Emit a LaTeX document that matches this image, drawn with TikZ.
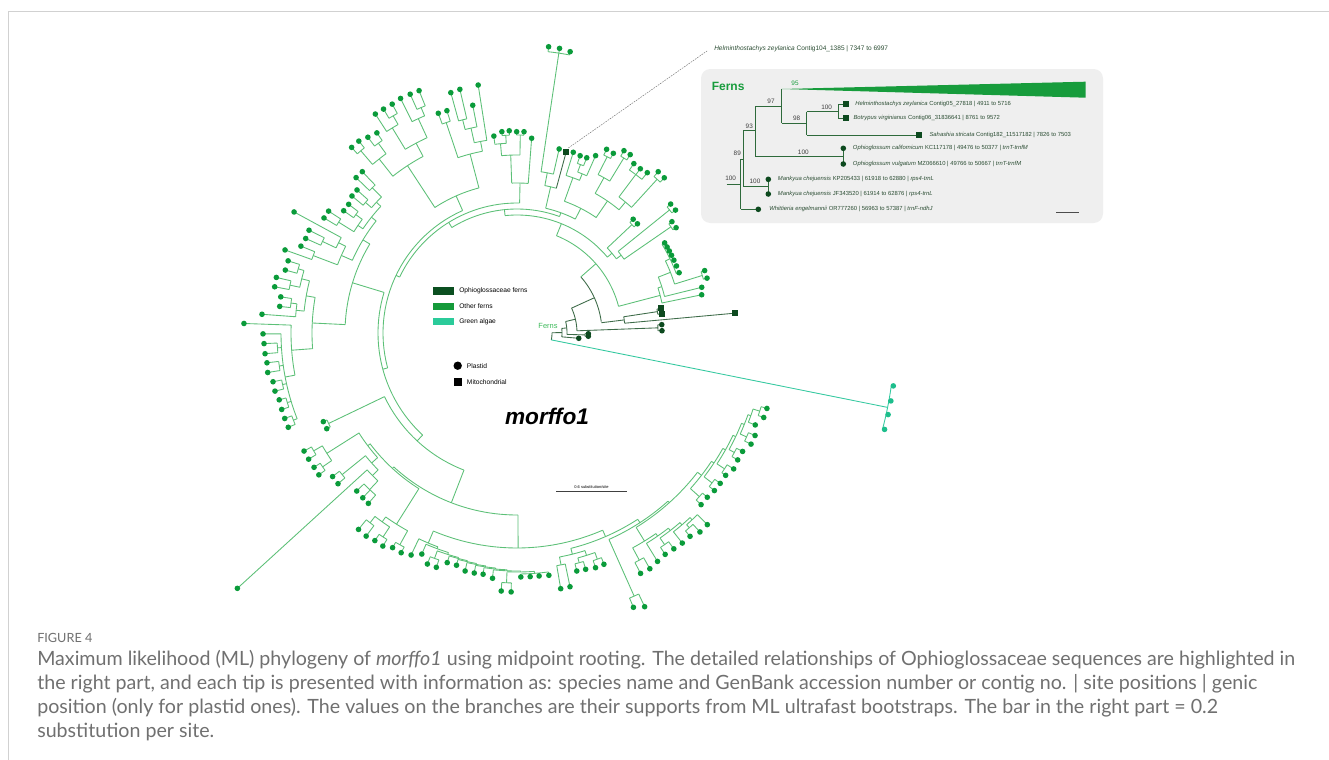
\documentclass[tikz,border=0pt]{standalone}
\usepackage{fontspec}
\usepackage{graphicx}
\setmainfont{Liberation Sans}
\newfontfamily\capfont{Lato}
\definecolor{brc}{HTML}{5CC077}
\definecolor{dotc}{HTML}{0A9B3A}
\definecolor{darkc}{HTML}{0D4A1F}
\definecolor{darkl}{HTML}{3D6B48}
\definecolor{alg}{HTML}{34C9A0}
\definecolor{algd}{HTML}{1DBE8C}
\definecolor{capgray}{HTML}{707070}
\definecolor{insetbg}{HTML}{EFEFEF}
\definecolor{insetln}{HTML}{2E6A3B}
\definecolor{insettx}{HTML}{2B4D33}
\definecolor{trig}{HTML}{179C3C}
\definecolor{lgdark}{HTML}{0B4F20}
\definecolor{lgmid}{HTML}{159A3A}
\definecolor{lgalg}{HTML}{2BCB9A}
\definecolor{fernlab}{HTML}{3DBA5A}
\tikzset{
  br/.style={line width=0.65pt},
  inl/.style={insetln, line width=0.7pt},
  tl/.style={anchor=west, inner sep=0pt, text=insettx, font=\fontsize{4.4}{5}\selectfont},
  bs/.style={inner sep=0pt, text=black!75, font=\fontsize{4.8}{5.5}\selectfont},
  lg/.style={anchor=west, inner sep=0pt, font=\fontsize{5}{6}\selectfont},
  capl/.style={anchor=base west, inner sep=0pt, text=capgray}
}
\newcommand\Rad[4][brc]{\draw[br,#1] (#2:#3) -- (#2:#4);}
\newcommand\Arc[4][brc]{\draw[br,#1] plot[domain=#2:#3,samples=30] (\x:#4);}
\newcommand\Clade[5][brc]{\pgfmathsetmacro\cmid{(#2+#3)/2}\Rad[#1]{\cmid}{#4}{#5}\Arc[#1]{#2}{#3}{#5}}
\newcommand\Tip[3]{\Rad{#1}{#2}{#3}\fill[dotc] (#1:#3) circle[radius=2.8];}
\newcommand\TipD[3]{\Rad[darkl]{#1}{#2}{#3}\fill[darkc] (#1:#3) circle[radius=2.8];}
\newcommand\TipS[3]{\Rad[darkl]{#1}{#2}{#3}\fill[darkc] (#1:#3) ++(-3,-3) rectangle ++(6,6);}
\newcommand\TipA[3]{\Rad[alg]{#1}{#2}{#3}\fill[algd] (#1:#3) circle[radius=2.8];}
\newcommand\Pair[6]{\pgfmathsetmacro\pmid{(#1+#2)/2}\Rad{\pmid}{#3}{#4}\Arc{#1}{#2}{#4}\Tip{#1}{#4}{#5}\Tip{#2}{#4}{#6}}
\newcommand\CapLineA{Maximum likelihood (ML) phylogeny of \textit{morffo1} using midpoint rooting. The detailed relationships of Ophioglossaceae sequences are highlighted in}
\newcommand\capsel{\capfont\fontsize{11}{13}\selectfont}
\newlength\capw
\begin{document}
\settowidth\capw{\capsel\CapLineA}
\pgfmathsetmacro\capsc{943.5/(\capw/1pt)}
\begin{tikzpicture}[x=0.75pt,y=-0.75pt]
\useasboundingbox (0,0) rectangle (1329,760);
\fill[white] (0,0) rectangle (1329,760);
\draw[black!18, line width=0.6pt] (8,760) -- (8,11) -- (1329,11);

% ================= circular tree =================
\begin{scope}[shift={(517,333)}]
\Arc[darkl]{-0.475}{11.35}{35}
\Clade[alg]{8}{14.7}{35}{378}
\TipA{8}{378}{380}\TipA{10.3}{378}{380}\TipA{12.4}{378}{380}\TipA{14.7}{378}{380}
\Clade[darkl]{-5.85}{4.9}{35}{45}
\TipD{4.9}{45}{62}
\Clade[darkl]{-13.3}{1.6}{45}{50}
\Clade[darkl]{0.6}{2.6}{50}{68}\TipD{0.6}{68}{71.4}\TipD{2.6}{68}{71.4}
\Clade[darkl]{-24.5}{-2.1}{50}{60}
\Clade[darkl]{-3.3}{-0.9}{60}{141}\TipD{-3.3}{141}{145}\TipD{-0.9}{141}{145}
\Clade[darkl]{-41.3}{-7.7}{60}{85}
\Clade[darkl]{-8.7}{-5.2}{85}{108}\TipS{-5.2}{108}{219}
\Clade[darkl]{-9.7}{-7.6}{108}{142}\TipS{-9.7}{142}{146.5}\TipS{-7.6}{142}{146.5}
\Clade{-67.9}{-14.7}{85}{105}
\Clade{-17.75}{-11.7}{105}{148}\Tip{-11.7}{148}{188.6}
\Clade{-21.6}{-13.9}{148}{152}\Tip{-13.9}{152}{190.3}
\Clade{-25.9}{-17.25}{152}{165}
\Pair{-18.4}{-16.1}{165}{194}{197.8}{197.8}
\Clade{-31.4}{-20.4}{165}{170}
\foreach \a in {-31.4,-29.8,-28.3,-26.7,-24.9,-22.8,-20.4}{\Tip{\a}{170}{173}}
\Clade{-95.8}{-40}{105}{118}
\Clade{-43.3}{-36.75}{118}{124}
\Pair{-44.4}{-42.2}{124}{158}{162.6}{162.6}
\Clade{-38.9}{-34.6}{124}{130}
\Pair{-40}{-37.8}{130}{196}{200.6}{200.6}
\Pair{-35.7}{-33.5}{130}{187}{190.8}{190.8}
\Clade{-121.7}{-69.95}{118}{124}
\Clade{-77}{-62.9}{124}{128}
\Clade{-70.2}{-55.6}{128}{140}
\Clade{-60.75}{-50.4}{140}{160}
\Clade{-53.1}{-47.65}{160}{170}
\Pair{-48.8}{-46.5}{170}{208}{214.4}{214}
\Clade{-55.4}{-50.9}{170}{198}\Tip{-55.4}{198}{205.8}\Tip{-53.1}{198}{205.4}\Tip{-50.9}{198}{206.6}
\Clade{-62.9}{-58.6}{160}{178}
\Pair{-59.6}{-57.6}{178}{205}{211.4}{211.3}
\Pair{-64}{-61.8}{178}{198}{204.4}{203.9}
\Clade{-72.7}{-67.7}{140}{165}\Tip{-72.7}{165}{189.3}
\Clade{-69.35}{-66.1}{165}{172}\Tip{-66.1}{172}{194}
\Pair{-70.4}{-68.3}{172}{180}{188.2}{188.6}
\Clade{-79.3}{-74.8}{128}{150}
\TipS{-74.8}{150}{187.2}
\coordinate (hz) at (-74.5:192);
\Clade{-81.5}{-77.1}{150}{163}\Tip{-77.1}{163}{188.8}
\Clade{-83.7}{-79.3}{163}{283}\Tip{-83.7}{283}{288}\Tip{-81.5}{283}{287.8}\Tip{-79.3}{283}{286.3}
\Clade{-154.5}{-88.9}{124}{130}
\Clade{-92}{-85.7}{130}{150}\Tip{-85.7}{150}{195.3}
\Clade{-95}{-89.05}{150}{178}
\Pair{-90.1}{-88}{178}{198}{201.3}{201.4}
\Clade{-96.7}{-93.25}{178}{190}\Tip{-96.7}{190}{198.3}
\Pair{-94.3}{-92.2}{190}{198}{201.9}{202.4}
\Clade{-195.1}{-113.95}{130}{134}
\Clade{-123.2}{-104.7}{134}{150}
\Clade{-108.6}{-100.8}{150}{185}
\Clade{-102.65}{-98.9}{185}{195}\Tip{-98.9}{195}{251}
\Clade{-104.3}{-101}{195}{210}\Tip{-101}{210}{232}
\Pair{-105.4}{-103.2}{210}{220}{249.3}{250.3}
\Pair{-109.7}{-107.5}{185}{222}{233.4}{233.1}
\Clade{-128.4}{-118}{150}{200}
\Clade{-121.3}{-114.7}{200}{215}
\Clade{-116.4}{-113.05}{215}{236}\Tip{-116.4}{236}{261.9}
\Pair{-114.1}{-112}{236}{245}{261.6}{261.4}
\Clade{-122.9}{-119.7}{215}{240}\Tip{-122.9}{240}{260.8}
\Pair{-120.8}{-118.6}{240}{250}{260.7}{260.7}
\Clade{-130.6}{-126.15}{200}{222}
\Pair{-127.3}{-125}{222}{235}{246.1}{244.3}
\Pair{-131.7}{-129.5}{222}{240}{248.6}{248.7}
\Clade{-227.2}{-163}{134}{139}
\Clade{-177.2}{-148.85}{139}{172}
\Clade{-156.2}{-141.5}{172}{180}
\Clade{-145.9}{-137.1}{180}{186}
\Clade{-139.25}{-134.9}{186}{192}
\Pair{-136}{-133.8}{192}{205}{223.7}{223.5}
\Pair{-140.3}{-138.2}{192}{200}{214.5}{214.6}
\Clade{-148.15}{-143.7}{186}{192}
\Pair{-144.8}{-142.6}{192}{200}{212.1}{211.9}
\Pair{-149.2}{-147.1}{192}{210}{224.7}{224.4}
\Clade{-159.2}{-153.15}{180}{192}
\Clade{-154.8}{-151.5}{192}{200}\Tip{-151.5}{200}{253.7}
\Pair{-155.9}{-153.7}{200}{215}{231.5}{232}
\Pair{-160.3}{-158.1}{192}{218}{246.4}{232.9}
\Clade{-184.4}{-170}{172}{205}
\Clade{-174.1}{-165.9}{205}{214}
\Clade{-168.1}{-163.65}{214}{222}
\Pair{-164.8}{-162.5}{222}{228}{240.1}{240}
\Pair{-169.2}{-167}{222}{232}{246.7}{247}
\Clade{-175.8}{-172.45}{214}{222}\Tip{-175.8}{222}{255.7}
\Pair{-173.6}{-171.3}{222}{228}{238.8}{239}
\Clade{-190.75}{-178}{205}{226}\Tip{-178}{226}{273.2}
\Clade{-201.3}{-180.2}{226}{236}\Tip{-180.2}{236}{254}
\Pair{-184.7}{-182.4}{236}{240}{252.8}{253.2}
\Pair{-189}{-186.8}{236}{240}{252.4}{251.8}
\Pair{-193.5}{-191.3}{236}{240}{248.9}{248.8}
\Pair{-198}{-195.7}{236}{240}{247.4}{247}
\Pair{-202.4}{-200.2}{236}{240}{247.4}{247.5}
\Clade{111.2}{154.35}{139}{147}
\Pair{153.3}{155.4}{147}{209}{213}{213}
\Clade{89.7}{132.6}{147}{182}
\Clade{122.2}{143}{182}{184}
\Clade{138.2}{147.7}{184}{187}
\Clade{145.45}{149.9}{187}{225}
\Pair{148.8}{151}{225}{235}{243.6}{243.5}
\Pair{144.4}{146.5}{225}{236}{243.7}{243.4}
\Clade{135.4}{141}{187}{195}
\Pair{139.9}{142.1}{195}{225}{234}{233.7}
\Clade{133.25}{137.6}{195}{203}\Tip{137.6}{203}{378.7}
\Clade{131.1}{135.4}{203}{215}\Tip{131.1}{215}{226.1}\Tip{133.1}{215}{225.7}\Tip{135.4}{215}{225.1}
\Clade{118.95}{125.5}{184}{226}
\Clade{123.3}{127.75}{226}{232}
\Pair{126.6}{128.9}{232}{240}{253}{252.4}
\Pair{122.2}{124.4}{232}{244}{251.8}{251.6}
\Pair{117.8}{120.1}{226}{242}{248.4}{248.1}
\Clade{66.5}{112.9}{182}{215}
\Clade{110.3}{115.5}{215}{228}\Tip{115.5}{228}{246}
\Clade{107.35}{113.3}{228}{230}\Tip{113.3}{230}{240.7}
\Clade{104.6}{110.1}{230}{232}\Pair{109}{111.2}{232}{240}{247.8}{247.8}
\Clade{102.3}{106.9}{232}{233}\Tip{106.9}{233}{240}
\Clade{99.98}{104.6}{233}{234}\Tip{104.6}{234}{240}
\Clade{97.65}{102.3}{234}{235}\Tip{102.3}{235}{243.6}
\Clade{95.2}{100.1}{235}{236}\Tip{100.1}{236}{243.8}
\Clade{92.4}{98}{236}{237}\Tip{98}{237}{243.6}
\Clade{89.1}{95.7}{237}{238}\Tip{95.7}{238}{246.5}
\Clade{85.8}{92.4}{238}{239}
\Pair{91.3}{93.5}{239}{250}{259}{258.5}
\Clade{82.5}{89.1}{239}{241}\Tip{82.5}{241}{244.4}\Tip{84.8}{241}{244}\Tip{86.9}{241}{244}\Tip{89.1}{241}{244}
\Clade{57.05}{75.95}{215}{222}
\Clade{72.65}{79.25}{222}{228}
\Pair{78.2}{80.3}{228}{236}{259.2}{259.4}
\Clade{70.45}{74.85}{228}{233}
\Pair{73.8}{75.9}{233}{238}{246.1}{245.4}
\Pair{69.4}{71.5}{233}{240}{247.1}{247.5}
\Clade{48.1}{66}{222}{226}
\Pair{65}{67}{226}{288}{302}{298}
\Clade{37.65}{58.5}{226}{228}
\Clade{55.3}{61.7}{228}{244}
\Pair{60.6}{62.8}{244}{258}{270.6}{270.3}
\Clade{52.2}{58.4}{244}{247}\Tip{58.4}{247}{268.2}
\Clade{49.3}{55.1}{247}{250}\Pair{54}{56.2}{250}{258}{266.8}{266.4}
\Clade{46.85}{51.8}{250}{253}\Tip{51.8}{253}{267.3}
\Clade{45.2}{48.5}{253}{256}\Tip{45.2}{256}{270.1}\Pair{47.4}{49.6}{256}{260}{270.3}{267}
\Clade{33.4}{41.9}{228}{233}
\Pair{40.8}{43}{233}{245}{251.4}{251.7}
\Clade{29.3}{37.55}{233}{236}
\Pair{36.5}{38.6}{236}{246}{252.8}{252.6}
\Clade{25.35}{33.2}{236}{239}
\Pair{32.1}{34.3}{239}{248}{255.8}{252.6}
\Clade{21.9}{28.8}{239}{242}
\Pair{27.7}{29.9}{242}{248}{254.8}{254.6}
\Clade{19.5}{24.35}{242}{245}
\Pair{23.3}{25.4}{245}{252}{259.2}{259.1}
\Clade{17.85}{21.1}{245}{248}\Tip{21.1}{248}{255.4}
\Pair{16.8}{18.9}{248}{255}{261.1}{260.8}
\end{scope}

% tree labels
\node[inner sep=0pt, text=fernlab, font=\fontsize{5.6}{6}\selectfont] (fernslab) at (548,326) {Ferns};
\node[anchor=west, inner sep=0pt, text=insettx, font=\fontsize{4.9}{6}\selectfont] (hzlab) at (714,49) {\textit{Helminthostachys zeylanica} Contig104\_1385 | 7347 to 6997};
\draw[black!55, dash pattern=on 1.2pt off 0.8pt, line width=0.35pt] (hz) -- (707,51);
\node[inner sep=0pt, font=\bfseries\itshape\fontsize{17}{20}\selectfont] (title) at (547,416) {morffo1};
\draw[black!75, line width=0.6pt] (556,491) coordinate (sb1) -- (627.3,491) coordinate (sb2);
\node[inner sep=0pt, font=\fontsize{3}{3.5}\selectfont] (sblab) at (591.5,487) {0.6 substitution/site};

% legend
\fill[lgdark] (432.7,287.3) rectangle (454.3,295);
\fill[lgmid] (432.7,302.7) rectangle (454.3,310);
\fill[lgalg] (432.7,317.7) rectangle (454.3,325);
\node[lg] (lg1) at (459,291.2) {Ophioglossaceae ferns};
\node[lg] (lg2) at (459,306.3) {Other ferns};
\node[lg] (lg3) at (459,321.3) {Green algae};
\fill[black] (457.7,365.7) circle[radius=4.2];
\node[lg] (lg4) at (466.7,365.7) {Plastid};
\fill[black] (453.5,377.5) rectangle (461.8,385.8);
\node[lg] (lg5) at (466.7,381.7) {Mitochondrial};

% ================= inset =================
\fill[insetbg, rounded corners=7pt] (701,69) rectangle (1103,223);
\node[anchor=west, inner sep=0pt, text=trig, font=\bfseries\fontsize{9}{10}\selectfont] (fernsh) at (711.5,86) {Ferns};
\fill[trig] (781.7,89) -- (1085.7,81.7) -- (1085.7,97.7) -- cycle;
\draw[inl] (726.7,184.3) -- (740.7,184.3);
\draw[inl] (740.7,159.3) -- (740.7,209.3);
\draw[inl] (740.7,209.3) -- (758.3,209.3);
\draw[inl] (740.7,159.3) -- (743.3,159.3);
\draw[inl] (743.3,130) -- (743.3,186.7);
\draw[inl] (743.3,186.7) -- (768.3,186.7);
\draw[inl] (768.3,179.3) -- (768.3,194);
\draw[inl] (743.3,130) -- (755,130);
\draw[inl] (755,106.7) -- (755,156.7);
\draw[inl] (755,156.7) -- (843.3,156.7);
\draw[inl] (843.3,148.3) -- (843.3,164);
\draw[inl] (755,106.7) -- (781.7,106.7);
\draw[inl] (781.7,89) -- (781.7,123.3);
\draw[inl] (781.7,123.3) -- (806.7,123.3);
\draw[inl] (806.7,111.7) -- (806.7,135);
\draw[inl] (806.7,111.7) -- (838.3,111.7);
\draw[inl] (838.3,104.3) -- (838.3,118.3);
\draw[inl] (838.3,104.3) -- (845.7,104.3);
\draw[inl] (838.3,118.3) -- (845.7,118.3);
\draw[inl] (806.7,135) -- (919.3,135);
\fill[darkc] (842.7,101.3) rectangle (848.7,107.3);
\fill[darkc] (842.7,115.3) rectangle (848.7,121.3);
\fill[darkc] (916.3,132) rectangle (922.3,138);
\fill[darkc] (843.3,148.3) circle[radius=2.8];
\fill[darkc] (843.3,164) circle[radius=2.8];
\fill[darkc] (768.3,179.3) circle[radius=2.8];
\fill[darkc] (768.3,194) circle[radius=2.8];
\fill[darkc] (758.3,209.3) circle[radius=2.8];
\node[tl] (t1) at (855,104.3) {\textit{Helminthostachys zeylanica} Contig05\_27818 | 4911 to 5716};
\node[tl] (t2) at (853.3,118.3) {\textit{Botrypus virginianus} Contig06\_31836641 | 8761 to 9572};
\node[tl] (t3) at (929.3,135) {\textit{Sahashia stricata} Contig182\_11517182 | 7826 to 7503};
\node[tl] (t4) at (852.7,148.3) {\textit{Ophioglossum californicum} KC117178 | 49476 to 50377 | \textit{trnT-trnfM}};
\node[tl] (t5) at (852.7,164) {\textit{Ophioglossum vulgatum} MZ066610 | 49766 to 50667 | \textit{trnT-trnfM}};
\node[tl] (t6) at (777.7,179.3) {\textit{Mankyua chejuensis} KP205433 | 61918 to 62880 | \textit{rps4-trnL}};
\node[tl] (t7) at (777.7,194) {\textit{Mankyua chejuensis} JF343520 | 61914 to 62876 | \textit{rps4-trnL}};
\node[tl] (t8) at (769,209.3) {\textit{Whittieria engelmannii} OR777260 | 56963 to 57387 | \textit{trnF-ndhJ}};
\node[bs, text=trig] (b95) at (795,83.3) {95};
\node[bs] (b97) at (771,101.7) {97};
\node[bs] (b93) at (749.3,126.7) {93};
\node[bs] (b89) at (737.3,153.3) {89};
\node[bs] (b100a) at (730.7,178.3) {100};
\node[bs] (b100b) at (755,181.7) {100};
\node[bs] (b100c) at (803.3,152.3) {100};
\node[bs] (b98) at (796.7,118.3) {98};
\node[bs] (b100d) at (826.7,107.7) {100};
\draw[black!70, line width=0.6pt] (1056,212.7) -- (1079.3,212.7);

% ================= caption =================
\node[capl] (fig) at (37,642) {\capfont\fontsize{9.5}{11}\selectfont FIGURE 4};
\node[capl] (c1) at (37,665) {\scalebox{\capsc}{\capsel\CapLineA}};
\node[capl] (c2) at (37,689) {\scalebox{\capsc}{\capsel the right part, and each tip is presented with information as: species name and GenBank accession number or contig no. | site positions | genic}};
\node[capl] (c3) at (37,713) {\scalebox{\capsc}{\capsel position (only for plastid ones). The values on the branches are their supports from ML ultrafast bootstraps. The bar in the right part = 0.2}};
\node[capl] (c4) at (37,737) {\scalebox{\capsc}{\capsel substitution per site.}};
\end{tikzpicture}
\end{document}
